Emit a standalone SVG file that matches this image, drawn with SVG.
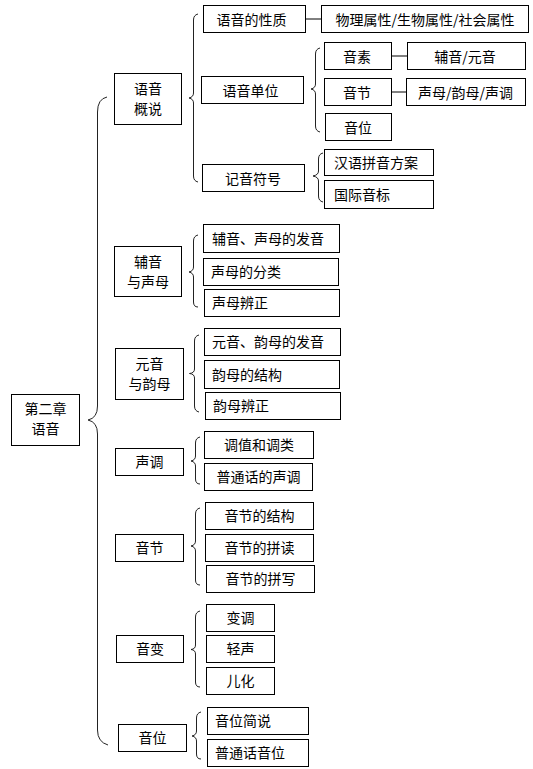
<svg xmlns="http://www.w3.org/2000/svg" width="533" height="769" viewBox="0 0 533 769">
<style>
.b{fill:#fff;stroke:#000;stroke-width:1}
.t{font-family:"Noto Sans CJK SC","Liberation Sans",sans-serif;font-size:14px;fill:#000}
.c{text-anchor:middle}
.br{fill:none;stroke:#222;stroke-width:1}
.ln{stroke:#000;stroke-width:1;fill:none}
</style>
<rect width="533" height="769" fill="#fff"/>
<g id="connectors">
<path class="br" d="M107,97 Q97.5,99 97.5,112 L97.5,406 Q97.5,418 88,420 Q97.5,422 97.5,434 L97.5,730 Q97.5,742 108,745"/>
<path class="br" d="M198,14 Q193.5,15 193.5,20 L193.5,93 Q193.5,97 189,98 Q193.5,99 193.5,103 L193.5,176 Q193.5,181 198,182"/>
<path class="br" d="M320,48 Q315.5,49 315.5,54 L315.5,84 Q315.5,88 311,89 Q315.5,90 315.5,94 L315.5,126 Q315.5,131 320,132"/>
<path class="br" d="M323,153 Q318.5,154 318.5,159 L318.5,171 Q318.5,175 313,176 Q318.5,177 318.5,181 L318.5,196 Q318.5,201 323,202"/>
<path class="br" d="M198,235 Q193.5,236 193.5,241 L193.5,267 Q193.5,271 189,272 Q193.5,273 193.5,277 L193.5,302 Q193.5,307 198,307"/>
<path class="br" d="M199,335 Q194.5,336 194.5,341 L194.5,369 Q194.5,373 189.5,373.5 Q194.5,374 194.5,378 L194.5,406 Q194.5,411 199,412"/>
<path class="br" d="M200,437 Q195.5,438 195.5,443 L195.5,456 Q195.5,460 191,461 Q195.5,462 195.5,466 L195.5,479 Q195.5,484 200,484"/>
<path class="br" d="M200,508 Q195.5,509 195.5,514 L195.5,541 Q195.5,545 191,546 Q195.5,547 195.5,551 L195.5,580 Q195.5,585 200,585"/>
<path class="br" d="M200,611 Q195.5,612 195.5,617 L195.5,645 Q195.5,649 191,649.5 Q195.5,650 195.5,654 L195.5,682 Q195.5,687 200,687"/>
<path class="br" d="M201,712 Q196.5,713 196.5,718 L196.5,731 Q196.5,735 192,736 Q196.5,737 196.5,741 L196.5,754 Q196.5,759 201,759"/>
<line class="ln" x1="305.5" y1="19" x2="321.5" y2="19"/>
<line class="ln" x1="391.5" y1="56" x2="407.5" y2="56"/>
<line class="ln" x1="391.5" y1="92" x2="406.5" y2="92"/>
</g>
<g id="n-root"><rect class="b" x="11.5" y="394.5" width="68" height="51"/><text class="t c" x="45.5" y="414">第二章</text><text class="t c" x="45.5" y="434">语音</text></g>
<g id="n-gaishuo"><rect class="b" x="114.5" y="73.5" width="67" height="51"/><text class="t c" x="148" y="93.5">语音</text><text class="t c" x="148" y="113.5">概说</text></g>
<g id="n-fuyin"><rect class="b" x="114.5" y="246.5" width="67" height="50"/><text class="t c" x="148" y="266.5">辅音</text><text class="t c" x="148" y="286.5">与声母</text></g>
<g id="n-yuanyin"><rect class="b" x="115.5" y="348.5" width="68" height="51"/><text class="t c" x="149.5" y="369">元音</text><text class="t c" x="149.5" y="389">与韵母</text></g>
<g id="n-shengdiao"><rect class="b" x="115.5" y="448.5" width="68" height="27"/><text class="t c" x="149.5" y="467">声调</text></g>
<g id="n-yinjie"><rect class="b" x="115.5" y="534.5" width="68" height="27"/><text class="t c" x="149.5" y="553">音节</text></g>
<g id="n-yinbian"><rect class="b" x="116.5" y="635.5" width="67" height="27"/><text class="t c" x="150" y="654">音变</text></g>
<g id="n-yinwei"><rect class="b" x="118.5" y="724.5" width="68" height="27"/><text class="t c" x="152.5" y="743">音位</text></g>
<g id="n-xingzhi"><rect class="b" x="203.5" y="5.5" width="102" height="27"/><text class="t" x="216.5" y="24.5">语音的性质</text></g>
<g id="n-danwei"><rect class="b" x="201.5" y="76.5" width="102" height="27"/><text class="t" x="222.5" y="95.5">语音单位</text></g>
<g id="n-fuhao"><rect class="b" x="202.5" y="164.5" width="102" height="27"/><text class="t" x="225" y="183.5">记音符号</text></g>
<g id="n-f1"><rect class="b" x="203.5" y="224.5" width="136" height="28"/><text class="t" x="212" y="244">辅音、声母的发音</text></g>
<g id="n-f2"><rect class="b" x="203.5" y="258.5" width="135" height="27"/><text class="t" x="211" y="277">声母的分类</text></g>
<g id="n-f3"><rect class="b" x="204.5" y="289.5" width="135" height="27"/><text class="t" x="212" y="308">声母辨正</text></g>
<g id="n-y1"><rect class="b" x="204.5" y="328.5" width="136" height="27"/><text class="t" x="212" y="347">元音、韵母的发音</text></g>
<g id="n-y2"><rect class="b" x="204.5" y="360.5" width="135" height="28"/><text class="t" x="212" y="380">韵母的结构</text></g>
<g id="n-y3"><rect class="b" x="205.5" y="392.5" width="135" height="27"/><text class="t" x="213" y="411">韵母辨正</text></g>
<g id="n-s1"><rect class="b" x="204.5" y="431.5" width="109" height="27"/><text class="t c" x="259" y="450">调值和调类</text></g>
<g id="n-s2"><rect class="b" x="204.5" y="463.5" width="108" height="27"/><text class="t c" x="258.5" y="482">普通话的声调</text></g>
<g id="n-j1"><rect class="b" x="205.5" y="502.5" width="108" height="27"/><text class="t c" x="259.5" y="521">音节的结构</text></g>
<g id="n-j2"><rect class="b" x="205.5" y="534.5" width="108" height="27"/><text class="t c" x="259.5" y="553">音节的拼读</text></g>
<g id="n-j3"><rect class="b" x="206.5" y="565.5" width="108" height="27"/><text class="t c" x="260.5" y="584">音节的拼写</text></g>
<g id="n-b1"><rect class="b" x="206.5" y="604.5" width="68" height="27"/><text class="t c" x="240.5" y="623">变调</text></g>
<g id="n-b2"><rect class="b" x="206.5" y="635.5" width="68" height="27"/><text class="t c" x="240.5" y="654">轻声</text></g>
<g id="n-b3"><rect class="b" x="206.5" y="667.5" width="68" height="27"/><text class="t c" x="240.5" y="686">儿化</text></g>
<g id="n-w1"><rect class="b" x="207.5" y="707.5" width="101" height="27"/><text class="t" x="215" y="726">音位简说</text></g>
<g id="n-w2"><rect class="b" x="207.5" y="739.5" width="101" height="27"/><text class="t" x="215" y="758">普通话音位</text></g>
<g id="n-shuxing"><rect class="b" x="321.5" y="5.5" width="207" height="27"/><text class="t c" x="425" y="24.5">物理属性/生物属性/社会属性</text></g>
<g id="n-yinsu"><rect class="b" x="324.5" y="42.5" width="67" height="27"/><text class="t c" x="357" y="61.5">音素</text></g>
<g id="n-yinjie2"><rect class="b" x="324.5" y="78.5" width="67" height="27"/><text class="t c" x="357" y="97.5">音节</text></g>
<g id="n-yinwei2"><rect class="b" x="325.5" y="113.5" width="66" height="27"/><text class="t c" x="358" y="132.5">音位</text></g>
<g id="n-pinyin"><rect class="b" x="324.5" y="149.5" width="109" height="26"/><text class="t" x="334" y="168">汉语拼音方案</text></g>
<g id="n-guoji"><rect class="b" x="324.5" y="180.5" width="109" height="28"/><text class="t" x="334" y="200">国际音标</text></g>
<g id="n-fuyuan"><rect class="b" x="407.5" y="42.5" width="118" height="27"/><text class="t c" x="465" y="61.5">辅音/元音</text></g>
<g id="n-shengyun"><rect class="b" x="406.5" y="78.5" width="119" height="27"/><text class="t c" x="465.5" y="97.5">声母/韵母/声调</text></g>
</svg>
